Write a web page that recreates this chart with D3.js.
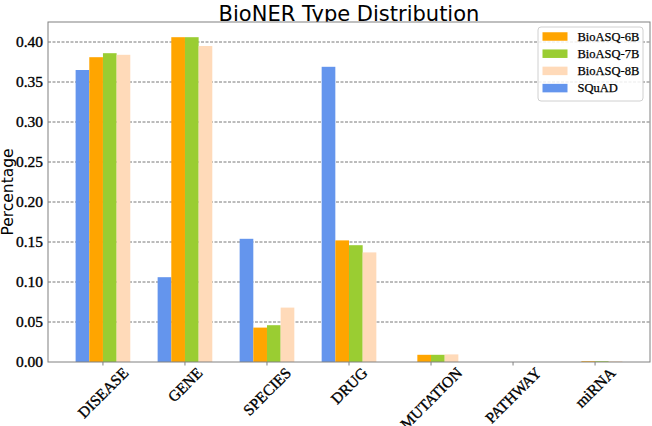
<!DOCTYPE html>
<html><head><meta charset="utf-8">
<script src="https://cdn.jsdelivr.net/npm/d3@7"></script>
<style>body{margin:0;background:#fff}</style>
</head><body>
<svg id="c" width="652" height="426"></svg>
<script>
const categories = ["DISEASE","GENE","SPECIES","DRUG","MUTATION","PATHWAY","miRNA"];
const squad    = [0.365, 0.106, 0.154, 0.369, 0.0,    0.0, 0.0];
const bioasq6b = [0.381, 0.406, 0.043, 0.152, 0.009,  0.0, 0.001];
const bioasq7b = [0.386, 0.406, 0.046, 0.146, 0.009,  0.0, 0.001];
const bioasq8b = [0.384, 0.395, 0.068, 0.137, 0.0095, 0.0, 0.0008];
const yTicks = [0.00,0.05,0.10,0.15,0.20,0.25,0.30,0.35,0.40];
const legendOrder = ["BioASQ-6B","BioASQ-7B","BioASQ-8B","SQuAD"];

const series = [
  {name:"SQuAD",     values:squad,    color:"#6495ED", offset:-2},
  {name:"BioASQ-6B", values:bioasq6b, color:"#FFA500", offset:-1},
  {name:"BioASQ-7B", values:bioasq7b, color:"#9ACD32", offset:0},
  {name:"BioASQ-8B", values:bioasq8b, color:"#FFDAB9", offset:1}
];

const L=48, R=650, T=22, B=362;
const svg = d3.select("#c");
const x = d3.scaleLinear().domain([-0.67, 6.67]).range([L, R]);
const y = d3.scaleLinear().domain([0, 0.425]).range([B, T]);
const bw = 1/6;
const serif = "'Liberation Serif','Times New Roman',serif";
const sans = "'DejaVu Sans',sans-serif";

// title
svg.append("text").attr("x",(L+R)/2).attr("y",21).attr("text-anchor","middle")
  .attr("font-family",sans).attr("font-size",21).attr("fill","#000")
  .text("BioNER Type Distribution");

// plot background
svg.append("rect").attr("x",L).attr("y",T).attr("width",R-L).attr("height",B-T).attr("fill","#fff");

// grid
svg.append("g").selectAll("line").data(yTicks.filter(d=>d>0)).join("line")
  .attr("x1",L).attr("x2",R).attr("y1",d=>y(d)).attr("y2",d=>y(d))
  .attr("stroke","#555").attr("stroke-width",0.8).attr("stroke-dasharray","3,1.5");

// bars
series.forEach(s=>{
  svg.append("g").selectAll("rect").data(s.values).join("rect")
    .attr("x",(d,i)=>x(i + s.offset*bw))
    .attr("width",(d,i)=>x(i+(s.offset+1)*bw)-x(i+s.offset*bw))
    .attr("y",d=>y(d))
    .attr("height",d=>B-y(d))
    .attr("fill",s.color);
});

// frame
svg.append("rect").attr("x",L).attr("y",T).attr("width",R-L).attr("height",B-T)
  .attr("fill","none").attr("stroke","#808080").attr("stroke-width",1);

// x ticks
svg.append("g").selectAll("line").data(categories).join("line")
  .attr("x1",(d,i)=>x(i)).attr("x2",(d,i)=>x(i)).attr("y1",B).attr("y2",B+3.5)
  .attr("stroke","#808080").attr("stroke-width",1);

// x labels
const xl = svg.append("g");
categories.forEach((c,i)=>{
  const t = xl.append("text").attr("font-family",serif).attr("font-size",15.5)
    .attr("stroke","#000").attr("stroke-width",0.35)
    .attr("text-anchor","middle").attr("dominant-baseline","central").text(c);
  const w = t.node().getComputedTextLength();
  const H = (w+14)*Math.SQRT1_2;
  t.attr("transform",`translate(${x(i)},${365+H/2}) rotate(-45)`);
});

// y tick labels
svg.append("g").selectAll("text").data(yTicks).join("text")
  .attr("x",43).attr("y",d=>y(d)).attr("dy","0.35em").attr("text-anchor","end")
  .attr("stroke","#000").attr("stroke-width",0.35)
  .attr("font-family",serif).attr("font-size",15.5).text(d=>d.toFixed(2));

// y label
svg.append("text").attr("transform",`translate(13,${(T+B)/2}) rotate(-90)`)
  .attr("text-anchor","middle").attr("font-family",sans).attr("font-size",15.5)
  .text("Percentage");

// legend
const lg = svg.append("g");
lg.append("rect").attr("x",538).attr("y",27).attr("width",105).attr("height",74).attr("rx",3)
  .attr("fill","#fff").attr("fill-opacity",0.85).attr("stroke","#d0d0d0").attr("stroke-width",1);
legendOrder.forEach((n,k)=>{
  const s = series.find(d=>d.name===n);
  const cy = 36.5 + 17.2*k;
  lg.append("rect").attr("x",542.5).attr("y",cy-4.25).attr("width",25).attr("height",8.5).attr("fill",s.color);
  lg.append("text").attr("x",577.5).attr("y",cy).attr("dy","0.35em")
    .attr("stroke","#000").attr("stroke-width",0.25)
    .attr("font-family",serif).attr("font-size",12.5).text(n);
});
</script>
</body></html>
